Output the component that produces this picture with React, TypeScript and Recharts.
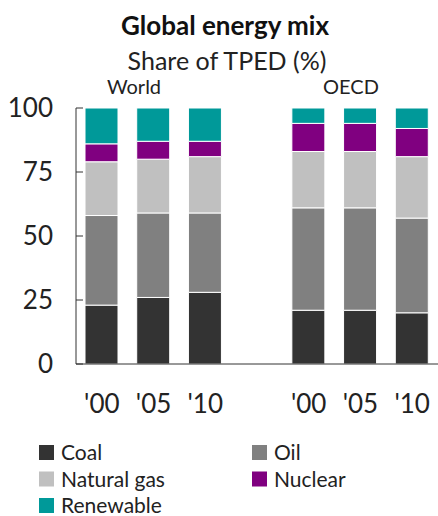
import { BarChart, Bar, XAxis, YAxis } from 'recharts';

const slots = ['W00', 'W05', 'W10', 'gap', 'O00', 'O05', 'O10'];
const tickLabels = ["'00", "'05", "'10", '', "'00", "'05", "'10"];
const coal = [23, 26, 28, null, 21, 21, 20];
const oil = [35, 33, 31, null, 40, 40, 37];
const gas = [21, 21, 22, null, 22, 22, 24];
const nuclear = [7, 7, 6, null, 11, 11, 11];
const renewable = [14, 13, 13, null, 6, 6, 8];
const yTicks = [0, 25, 50, 75, 100];

const series = [
  { key: 'coal', name: 'Coal', color: '#333333' },
  { key: 'oil', name: 'Oil', color: '#808080' },
  { key: 'gas', name: 'Natural gas', color: '#c0c0c0' },
  { key: 'nuclear', name: 'Nuclear', color: '#800080' },
  { key: 'renewable', name: 'Renewable', color: '#009999' },
];

const rows = slots.map((slot, i) => ({
  slot,
  label: tickLabels[i],
  coal: coal[i],
  oil: oil[i],
  gas: gas[i],
  nuclear: nuclear[i],
  renewable: renewable[i],
}));

const FONT = 'Lato, "DejaVu Sans", sans-serif';

function YTick({ x, y, payload }: any) {
  return (
    <g>
      <line x1={x} x2={x + 7} y1={y} y2={y} stroke="#333" strokeWidth={1} />
      <text x={x - 23} y={y} dy="0.36em" textAnchor="end" fontSize={26} fill="#222" fontFamily={FONT}>
        {payload.value}
      </text>
    </g>
  );
}

function XTick({ x, y, payload, index }: any) {
  return (
    <text x={x} y={y + 49} textAnchor="middle" fontSize={26} fill="#222" fontFamily={FONT}>
      {tickLabels[index] ?? payload.value}
    </text>
  );
}

export default function App() {
  return (
    <div style={{ position: 'absolute', left: 0, top: 0, width: 438, height: 516, background: '#fff', fontFamily: FONT }}>
      <BarChart width={438} height={516} data={rows} margin={{ top: 108, right: 0, bottom: 102, left: 16 }} barSize={33}>
        <XAxis
          dataKey="slot"
          height={50}
          stroke="#333"
          tickLine={false}
          tickSize={0}
          tickMargin={0}
          interval={0}
          tick={<XTick />}
        />
        <YAxis
          width={60}
          domain={[0, 100]}
          ticks={yTicks}
          stroke="#333"
          tickLine={false}
          tickSize={0}
          tickMargin={0}
          tick={<YTick />}
        />
        {series.map((s) => (
          <Bar key={s.key} dataKey={s.key} name={s.name} stackId="mix" fill={s.color} stroke="#fff" strokeWidth={1} isAnimationActive={false} />
        ))}
      </BarChart>
      <svg width={438} height={516} style={{ position: 'absolute', left: 0, top: 0, pointerEvents: 'none' }}>
        <text x={225} y={35} textAnchor="middle" fontSize={26} fontWeight="bold" fill="#111" fontFamily={FONT}>
          Global energy mix
        </text>
        <text x={227} y={70} textAnchor="middle" fontSize={25} fill="#222" fontFamily={FONT}>
          Share of TPED (%)
        </text>
        <text x={134} y={94} textAnchor="middle" fontSize={20} fill="#222" fontFamily={FONT}>
          World
        </text>
        <text x={351} y={94} textAnchor="middle" fontSize={20} fill="#222" fontFamily={FONT}>
          OECD
        </text>
        {series.map((s, i) => {
          const col = i % 2;
          const row = Math.floor(i / 2);
          const bx = col === 0 ? 39 : 252;
          const by = 460 + row * 26.5;
          return (
            <g key={s.key}>
              <rect x={bx} y={by - 15} width={15} height={15} fill={s.color} />
              <text x={bx + 22} y={by} fontSize={21} fill="#222" fontFamily={FONT}>
                {s.name}
              </text>
            </g>
          );
        })}
      </svg>
    </div>
  );
}
